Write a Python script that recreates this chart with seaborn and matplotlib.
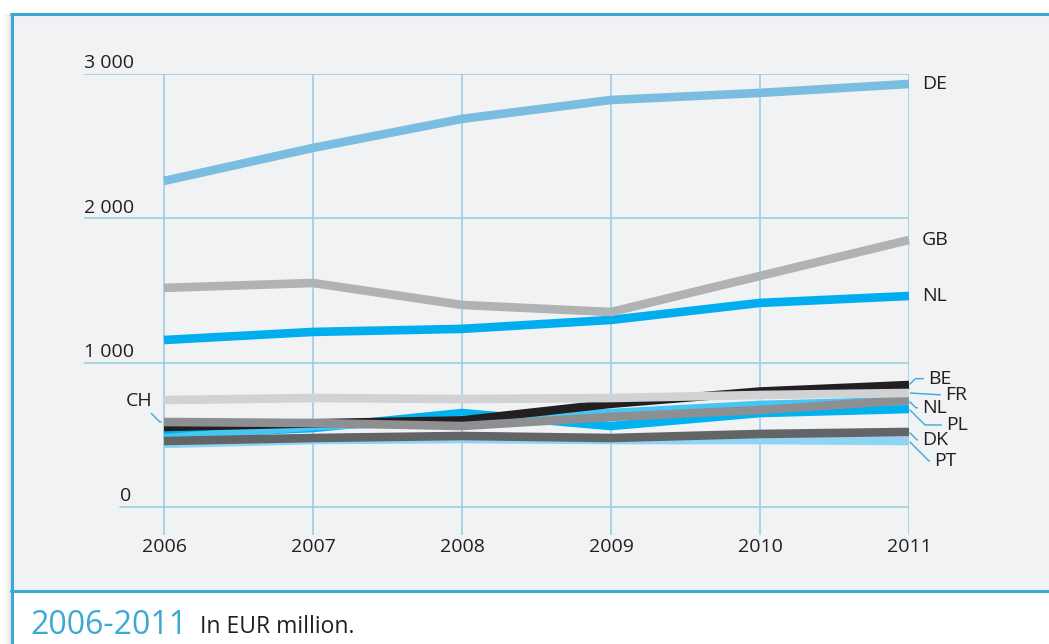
import pandas as pd
import numpy as np
import seaborn as sns
import matplotlib.pyplot as plt
from matplotlib.patches import Rectangle
from matplotlib.lines import Line2D

# ------------------------------------------------
# Data (EUR million)
# ------------------------------------------------
years = [2006, 2007, 2008, 2009, 2010, 2011]

de = [2259, 2488, 2689, 2820, 2869, 2931]
gb = [1518, 1552, 1400, 1351, 1601, 1850]
nl = [1157, 1213, 1234, 1296, 1414, 1462]
fr = [741, 755, 748, 755, 776, 790]
be = [554, 580, 600, 715, 800, 845]
ch = [589, 582, 561, 624, 672, 741]
nl_low = [475, 560, 603, 651, 707, 735]
pl = [500, 547, 651, 561, 651, 679]
dk = [457, 478, 492, 478, 506, 520]
pt = [437, 464, 471, 464, 464, 457]

# draw order: first = bottom
series = {
    "PT": pt, "PL": pl, "NL_low": nl_low, "BE": be, "DK": dk,
    "CH": ch, "FR": fr, "NL": nl, "GB": gb, "DE": de,
}
labels = {k: k for k in series}
labels["NL_low"] = "NL"

ytick_vals = [0, 1000, 2000, 3000]
ytick_labels = ["0", "1 000", "2 000", "3 000"]

colors = {
    "DE": "#7bbde0", "GB": "#b1b2b4", "NL": "#00aeef",
    "FR": "#d1d2d4", "BE": "#231f20", "CH": "#8e8f92",
    "NL_low": "#45c6f3", "PL": "#00b2ef", "DK": "#636466",
    "PT": "#8fd4f4",
}

data = pd.DataFrame(
    [(k, y, v) for k, vals in series.items() for y, v in zip(years, vals)],
    columns=["country", "year", "value"],
)

# ------------------------------------------------
# Figure
# ------------------------------------------------
sns.set_theme(style="white")
plt.rcParams["font.family"] = ["Open Sans", "DejaVu Sans"]

W, H = 1049, 644
fig = plt.figure(figsize=(W / 100, H / 100), dpi=100)
fig.patch.set_facecolor("white")

blue = "#3aa9d3"
grid_c = "#9ccde4"

def px(x, y):
    return x / W, 1 - y / H

# soft shadow on the left of the box
for i in range(10):
    x0, _ = px(11 - i - 1, 0)
    fig.add_artist(Rectangle((x0, 0), 1 / W, 1 - 14 / H, transform=fig.transFigure,
                             color="#777777", alpha=0.18 * (1 - i / 10) ** 2, lw=0))

# panel background
fig.add_artist(Rectangle(px(11, 591), 1, (591 - 14) / H, transform=fig.transFigure,
                         facecolor="#f1f2f4", edgecolor="none", zorder=0))
# border lines
fig.add_artist(Line2D([11 / W, 1], [1 - 14 / H] * 2, color=blue, lw=2.2, transform=fig.transFigure))
fig.add_artist(Line2D([11 / W, 1], [1 - 591 / H] * 2, color=blue, lw=2.2, transform=fig.transFigure))
fig.add_artist(Line2D([12 / W] * 2, [0, 1 - 14 / H], color=blue, lw=2.2, transform=fig.transFigure))

ax = fig.add_axes([84 / W, 1 - 535 / H, 825 / W, 461 / H])
ax.set_facecolor("none")
ax.set_xlim(2006 - 80 / 149, 2011)
ax.set_ylim(-194, 3000)

# grid
ax.vlines(years, -194, 3000, color=grid_c, lw=1.2, zorder=1)
for v, lbl in zip(ytick_vals, ytick_labels):
    xmin = 36 / 825 if v == 0 else 0
    ax.axhline(v, xmin=xmin, xmax=1, color=grid_c, lw=1.2, zorder=1)
    ax.annotate(lbl, xy=(xmin, v),
                xycoords=("axes fraction", "data"), xytext=(0, 1.2),
                textcoords="offset points", ha="left", va="bottom",
                fontsize=14, color="#231f20")

sns.lineplot(data=data, x="year", y="value", hue="country",
             hue_order=list(series.keys()), palette=colors,
             linewidth=6.2, legend=False, ax=ax, zorder=3,
             solid_capstyle="butt", solid_joinstyle="miter", clip_on=False)

for s in ax.spines.values():
    s.set_visible(False)
ax.set_xticks(years)
ax.set_xticklabels([str(y) for y in years], fontsize=14, color="#231f20")
ax.set_yticks([])
ax.tick_params(axis="x", length=0, pad=2)
ax.set_xlabel("")
ax.set_ylabel("")

# ------------------------------------------------
# End labels
# ------------------------------------------------
# offsets in points from the line end (2011)
offsets = {
    "DE": (9.4, 0), "GB": (9.4, 0), "NL": (9.4, 0),
    "BE": (13.7, 4.6), "FR": (25.9, -1.5), "NL_low": (9.4, -5.0),
    "PL": (26.6, -11.5), "DK": (9.4, -5.8), "PT": (18.0, -14.4),
}
leaders = {"BE", "FR", "NL_low", "PL", "DK", "PT"}
for key, (dx, dy) in offsets.items():
    yv = series[key][-1]
    kw = {}
    if key in leaders:
        if abs(dy) < 3:
            conn = "arc3,rad=0"
        else:
            conn = "angle,angleA=0,angleB=%d,rad=0" % (45 if dy > 0 else -45)
        kw["arrowprops"] = dict(arrowstyle="-", color=blue, lw=1.0,
                                shrinkA=1, shrinkB=1, relpos=(0, 0.5),
                                connectionstyle=conn)
    ax.annotate(labels[key], xy=(2011, yv), xytext=(dx, dy),
                textcoords="offset points", ha="left", va="center",
                fontsize=14, color="#231f20", annotation_clip=False, **kw)

ax.annotate("CH", xy=(2006, ch[0]), xytext=(-8.6, 15.0),
            textcoords="offset points", ha="right", va="center",
            fontsize=14, color="#231f20", annotation_clip=False,
            arrowprops=dict(arrowstyle="-", color=blue, lw=1.0, shrinkA=0,
                            shrinkB=2, relpos=(0.85, 0),
                            connectionstyle="angle,angleA=-45,angleB=0,rad=0"))

# caption
fig.text(30 / W, 1 - 625 / H, "2006-2011", fontsize=23, color=blue, va="center", ha="left")
fig.text(200 / W, 1 - 627 / H, "In EUR million.", fontsize=16.5, color="#231f20", va="center", ha="left")

fig.savefig("out.png", dpi=100)
